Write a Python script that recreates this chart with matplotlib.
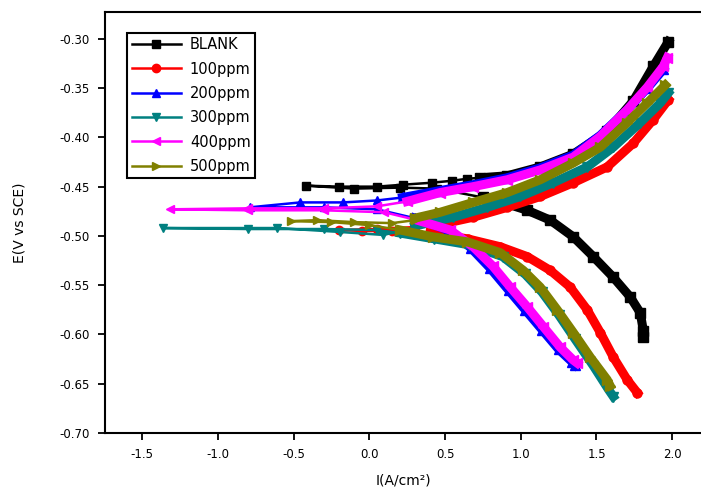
import matplotlib
matplotlib.use("Agg")
import matplotlib.pyplot as plt
from matplotlib.ticker import FormatStrFormatter

plt.rcParams["font.family"] = ["DejaVu Sans"]

labels = ["BLANK", "100ppm", "200ppm", "300ppm", "400ppm", "500ppm"]
colors = ["#000000", "#FF0000", "#0000FF", "#008080", "#FF00FF", "#808000"]
markers = ["s", "o", "^", "v", "<", ">"]

# log i (x) vs E (y); each curve: cathodic branch, thin spike near Ecorr, anodic branch
blank_cath_x = [1.809, 1.809, 1.789, 1.723, 1.611, 1.479, 1.347, 1.195, 1.043, 0.90, 0.75]
blank_cath_y = [-0.603, -0.596, -0.578, -0.562, -0.542, -0.521, -0.501, -0.484, -0.474, -0.467, -0.461]
blank_spike_x = [0.75, 0.45, 0.20, -0.10, -0.42, -0.20, 0.05, 0.224, 0.415, 0.548, 0.647, 0.733]
blank_spike_y = [-0.461, -0.452, -0.451, -0.452, -0.449, -0.450, -0.450, -0.448, -0.446, -0.444, -0.442, -0.441]
blank_anod_x = [0.733, 0.911, 1.129, 1.347, 1.571, 1.743, 1.875, 1.974]
blank_anod_y = [-0.441, -0.439, -0.430, -0.417, -0.394, -0.363, -0.328, -0.303]

p100_cath_x = [1.769, 1.703, 1.611, 1.525, 1.439, 1.327, 1.195, 1.043, 0.865, 0.65, 0.40]
p100_cath_y = [-0.659, -0.646, -0.623, -0.598, -0.575, -0.552, -0.535, -0.521, -0.511, -0.503, -0.497]
p100_spike_x = [0.40, 0.15, -0.05, -0.20, 0.05, 0.30, 0.45]
p100_spike_y = [-0.497, -0.495, -0.495, -0.494, -0.493, -0.491, -0.489]
p100_anod_x = [0.45, 0.686, 0.911, 1.129, 1.347, 1.571, 1.743, 1.875, 1.974]
p100_anod_y = [-0.489, -0.481, -0.471, -0.460, -0.446, -0.430, -0.406, -0.382, -0.362]

p200_cath_x = [1.36, 1.34, 1.25, 1.14, 1.03, 0.92, 0.80, 0.67, 0.52, 0.30]
p200_cath_y = [-0.631, -0.628, -0.615, -0.595, -0.575, -0.555, -0.533, -0.512, -0.494, -0.482]
p200_spike_x = [0.30, 0.05, -0.30, -0.79, -0.456, -0.172, 0.052, 0.22]
p200_spike_y = [-0.482, -0.473, -0.471, -0.471, -0.466, -0.466, -0.464, -0.461]
p200_anod_x = [0.22, 0.468, 0.686, 0.911, 1.129, 1.347, 1.525, 1.703, 1.836, 1.941]
p200_anod_y = [-0.461, -0.454, -0.448, -0.441, -0.431, -0.418, -0.398, -0.372, -0.350, -0.331]

p300_cath_x = [1.611, 1.58, 1.48, 1.36, 1.25, 1.14, 1.03, 0.88, 0.66, 0.43, 0.20]
p300_cath_y = [-0.663, -0.656, -0.632, -0.605, -0.580, -0.557, -0.539, -0.521, -0.509, -0.503, -0.497]
p300_spike_x = [0.20, 0.05, -0.30, -0.80, -1.361, -0.608, -0.192, 0.092, 0.30]
p300_spike_y = [-0.497, -0.494, -0.493, -0.493, -0.492, -0.492, -0.496, -0.499, -0.492]
p300_anod_x = [0.30, 0.554, 0.779, 0.997, 1.215, 1.439, 1.611, 1.789, 1.922, 1.974]
p300_anod_y = [-0.490, -0.481, -0.471, -0.460, -0.446, -0.430, -0.410, -0.385, -0.365, -0.355]

p400_cath_x = [1.373, 1.347, 1.261, 1.149, 1.043, 0.931, 0.818, 0.686, 0.534, 0.316]
p400_cath_y = [-0.629, -0.626, -0.613, -0.592, -0.572, -0.552, -0.531, -0.511, -0.494, -0.484]
p400_spike_x = [0.316, 0.10, -0.30, -0.80, -1.315, -0.80, -0.30, 0.05, 0.25]
p400_spike_y = [-0.484, -0.476, -0.474, -0.474, -0.473, -0.472, -0.472, -0.470, -0.465]
p400_anod_x = [0.25, 0.468, 0.686, 0.911, 1.129, 1.347, 1.525, 1.703, 1.836, 1.941, 1.968]
p400_anod_y = [-0.465, -0.456, -0.450, -0.443, -0.433, -0.420, -0.399, -0.372, -0.349, -0.328, -0.319]

p500_cath_x = [1.59, 1.571, 1.459, 1.347, 1.241, 1.129, 1.017, 0.865, 0.647, 0.422, 0.204]
p500_cath_y = [-0.652, -0.646, -0.623, -0.598, -0.575, -0.552, -0.535, -0.517, -0.506, -0.501, -0.494]
p500_spike_x = [0.204, 0.0, -0.25, -0.52, -0.344, -0.1, 0.15, 0.30]
p500_spike_y = [-0.494, -0.489, -0.486, -0.485, -0.484, -0.486, -0.487, -0.484]
p500_anod_x = [0.30, 0.468, 0.686, 0.911, 1.129, 1.347, 1.525, 1.703, 1.836, 1.954]
p500_anod_y = [-0.482, -0.476, -0.466, -0.456, -0.443, -0.426, -0.410, -0.385, -0.365, -0.347]

series = [
    (blank_cath_x, blank_cath_y, blank_spike_x, blank_spike_y, blank_anod_x, blank_anod_y),
    (p100_cath_x, p100_cath_y, p100_spike_x, p100_spike_y, p100_anod_x, p100_anod_y),
    (p200_cath_x, p200_cath_y, p200_spike_x, p200_spike_y, p200_anod_x, p200_anod_y),
    (p300_cath_x, p300_cath_y, p300_spike_x, p300_spike_y, p300_anod_x, p300_anod_y),
    (p400_cath_x, p400_cath_y, p400_spike_x, p400_spike_y, p400_anod_x, p400_anod_y),
    (p500_cath_x, p500_cath_y, p500_spike_x, p500_spike_y, p500_anod_x, p500_anod_y),
]

fig = plt.figure(figsize=(7.01, 4.91), dpi=100)
ax = fig.add_axes([0.150, 0.118, 0.850, 0.858])

for i, (cx, cy, sx, sy, axx, ayy) in enumerate(series):
    z = 2 + i
    ax.plot(sx, sy, color=colors[i], lw=1.8, marker=markers[i], ms=6,
            mec=colors[i], label=labels[i], zorder=z)
    ax.plot(cx, cy, color=colors[i], lw=6.5, marker=markers[i], ms=6.5,
            mec=colors[i], zorder=z)
    ax.plot(axx, ayy, color=colors[i], lw=6.5, marker=markers[i], ms=6.5,
            mec=colors[i], zorder=z)

ax.set_xlim(-1.744, 2.19)
ax.set_ylim(-0.70, -0.2726)
ax.set_xticks([-1.5, -1.0, -0.5, 0.0, 0.5, 1.0, 1.5, 2.0])
ax.set_yticks([-0.70, -0.65, -0.60, -0.55, -0.50, -0.45, -0.40, -0.35, -0.30])
ax.xaxis.set_major_formatter(FormatStrFormatter("%.1f"))
ax.yaxis.set_major_formatter(FormatStrFormatter("%.2f"))
ax.tick_params(direction="out", length=5, width=1.3, labelsize=8.5, pad=6)
ax.spines["right"].set_visible(False)
for side in ["left", "bottom", "top"]:
    ax.spines[side].set_linewidth(1.5)

ax.set_xlabel("I(A/cm²)", fontsize=10, labelpad=9)
ax.set_ylabel("E(V vs SCE)", fontsize=10, labelpad=24)

leg = ax.legend(loc="upper left", bbox_to_anchor=(0.037, 0.95), borderaxespad=0,
                fontsize=10.5, handlelength=3.4, handletextpad=0.6, labelspacing=0.64,
                borderpad=0.3, fancybox=False, framealpha=1, edgecolor="black")
leg.get_frame().set_linewidth(1.5)

fig.savefig("out.png", dpi=100)
